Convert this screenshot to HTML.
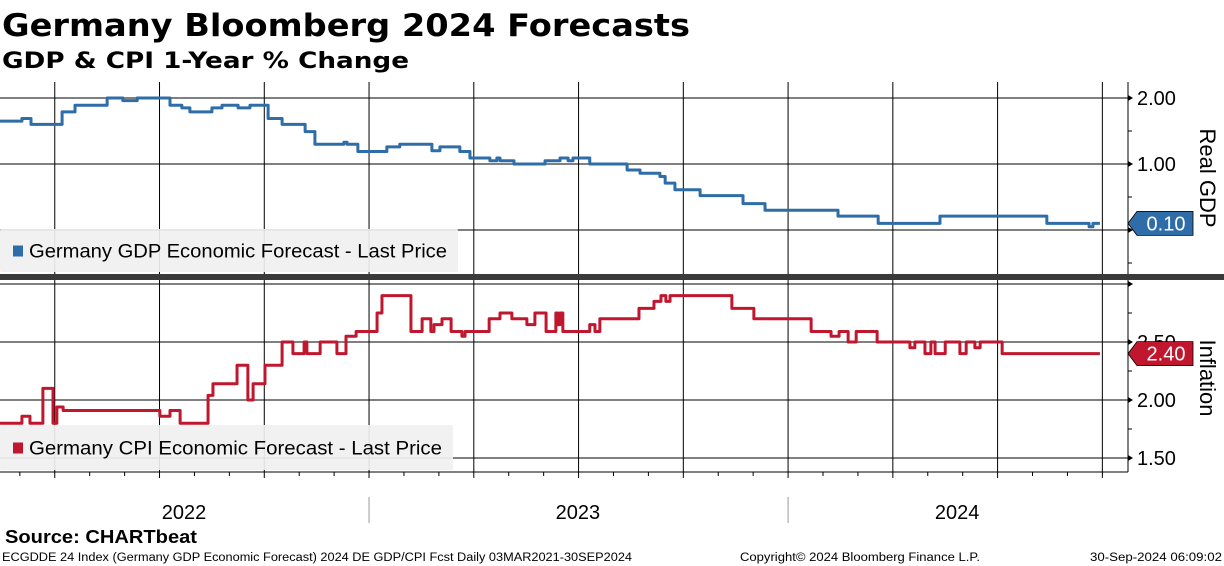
<!DOCTYPE html>
<html><head><meta charset="utf-8"><style>
html,body{margin:0;padding:0;background:#fff;}
svg{display:block;font-family:"Liberation Sans","DejaVu Sans",sans-serif;}
</style></head><body>
<svg id="chart" width="1224" height="566" viewBox="0 0 1224 566" xmlns="http://www.w3.org/2000/svg">
<text x="2" y="36" font-family="DejaVu Sans, sans-serif" font-weight="bold" font-size="31" textLength="688" lengthAdjust="spacingAndGlyphs">Germany Bloomberg 2024 Forecasts</text>
<text x="2" y="68" font-family="DejaVu Sans, sans-serif" font-weight="bold" font-size="22" textLength="407" lengthAdjust="spacingAndGlyphs">GDP &amp; CPI 1-Year % Change</text>
<g id="grid"></g>
<g id="series"></g>
<g id="axes"></g>
<text x="5" y="543" font-weight="bold" font-size="18" textLength="192" lengthAdjust="spacingAndGlyphs">Source: CHARTbeat</text>
<text x="2" y="561" font-size="11.5" textLength="630" lengthAdjust="spacingAndGlyphs">ECGDDE 24 Index (Germany GDP Economic Forecast) 2024 DE GDP/CPI Fcst  Daily 03MAR2021-30SEP2024</text>
<text x="740" y="561" font-size="11.5" textLength="240" lengthAdjust="spacingAndGlyphs">Copyright© 2024 Bloomberg Finance L.P.</text>
<text x="1090" y="561" font-size="11.5" textLength="132" lengthAdjust="spacingAndGlyphs">30-Sep-2024 06:09:02</text>
</svg>
<script>
// months since Jan 2022 where each value starts
const gdpMonths=[1.43,2.06,2.32,3.21,3.58,4.50,4.95,5.36,6.30,6.64,6.87,7.50,7.79,8.25,8.59,9.11,9.51,10.17,10.45,11.28,11.37,11.68,12.51,12.88,13.80,14.03,14.60,14.89,15.46,15.66,15.75,16.15,17.04,17.47,17.70,17.84,18.32,19.39,19.76,20.33,20.48,20.76,21.48,22.71,23.34,25.43,26.58,28.35,31.41,32.62,32.73];
const gdpValues=[1.65,1.69,1.60,1.79,1.89,2.00,1.96,2.00,1.89,1.85,1.79,1.85,1.89,1.85,1.89,1.69,1.60,1.49,1.30,1.33,1.30,1.19,1.26,1.30,1.20,1.26,1.19,1.09,1.05,1.09,1.05,1.00,1.05,1.09,1.05,1.09,1.00,0.91,0.86,0.81,0.71,0.61,0.52,0.40,0.30,0.21,0.10,0.21,0.10,0.05,0.10];
const cpiMonths=[1.43,2.06,2.29,2.66,2.95,3.06,3.24,6.01,6.30,6.59,7.39,7.53,8.22,8.53,8.68,9.02,9.51,9.82,10.14,10.22,10.60,11.08,11.34,11.63,12.23,12.37,13.20,13.52,13.77,13.86,14.09,14.35,14.66,14.75,15.44,15.75,16.09,16.52,16.75,17.07,17.35,17.41,17.47,17.55,18.32,18.47,18.61,19.73,20.16,20.36,20.50,20.62,22.39,23.02,24.66,25.23,25.46,25.72,25.95,26.55,27.49,27.63,27.92,28.09,28.21,28.50,28.92,29.10,29.35,29.50,30.13];
const cpiValues=[1.80,1.86,1.80,2.10,1.80,1.94,1.91,1.86,1.91,1.80,2.04,2.14,2.30,2.00,2.14,2.30,2.50,2.40,2.50,2.40,2.50,2.40,2.55,2.59,2.75,2.90,2.59,2.70,2.59,2.65,2.70,2.59,2.55,2.59,2.70,2.75,2.70,2.65,2.75,2.59,2.75,2.65,2.75,2.59,2.65,2.59,2.70,2.79,2.85,2.90,2.85,2.90,2.79,2.70,2.59,2.55,2.59,2.50,2.59,2.50,2.45,2.50,2.40,2.50,2.40,2.50,2.40,2.50,2.45,2.50,2.40];
const endMonth=32.93;
const gdpTicks=[2.00,1.00,0.00];
const gdpTickLabels=["2.00","1.00",""];
const cpiTicks=[3.00,2.50,2.00,1.50];
const cpiTickLabels=["","2.50","2.00","1.50"];
const yearLabels=["2022","2023","2024"];
const yearMid=[6.7,17.98,28.84];
const yearStarts=[12,24];

const NS="http://www.w3.org/2000/svg";
const xS=m=>-50+m*34.92;
const yG=v=>230-v*66;
const yC=v=>342-(v-2.5)*116;
const AX=1128;
function mk(tag,attrs,parent){const e=document.createElementNS(NS,tag);for(const k in attrs)e.setAttribute(k,attrs[k]);parent.appendChild(e);return e;}
const grid=document.getElementById('grid'),series=document.getElementById('series'),axes=document.getElementById('axes');

for(let q=3;q<=33;q+=3){
  const x=xS(q);
  let l=mk('line',{x1:x,y1:82,x2:x,y2:274,stroke:'#000','stroke-width':1},grid);
  
  
  l=mk('line',{x1:x,y1:280,x2:x,y2:472,stroke:'#000','stroke-width':1},grid);
  
  
}
gdpTicks.forEach((v,i)=>{
  const y=yG(v);
  const l=mk('line',{x1:0,y1:y,x2:AX,y2:y,stroke:'#000','stroke-width':1},grid);
  
  
  const p=mk('path',{d:`M${AX},${y-3}L${AX+5},${y}L${AX},${y+3}Z`,fill:'#000'},axes);
  
  
  if(gdpTickLabels[i]){const t=mk('text',{x:AX+9,y:y+7,'font-size':20},axes);t.textContent=gdpTickLabels[i];
  
  }
});
[1.5,0.5,-0.5].forEach(v=>{const l=mk('line',{x1:AX,y1:yG(v),x2:AX+4,y2:yG(v),stroke:'#000'},axes);
  
  });
cpiTicks.forEach((v,i)=>{
  const y=yC(v);
  const l=mk('line',{x1:0,y1:y,x2:AX,y2:y,stroke:'#000','stroke-width':1},grid);
  
  
  const p=mk('path',{d:`M${AX},${y-3}L${AX+5},${y}L${AX},${y+3}Z`,fill:'#000'},axes);
  
  
  if(cpiTickLabels[i]){const t=mk('text',{x:AX+9,y:y+7,'font-size':20},axes);t.textContent=cpiTickLabels[i];
  
  }
});
[2.75,2.25,1.75].forEach(v=>{const l=mk('line',{x1:AX,y1:yC(v),x2:AX+4,y2:yC(v),stroke:'#000'},axes);
  
  });

let a=mk('line',{x1:AX,y1:82,x2:AX,y2:274,stroke:'#000'},axes);


a=mk('line',{x1:AX,y1:280,x2:AX,y2:472,stroke:'#000'},axes);


a=mk('line',{x1:0,y1:472,x2:AX,y2:472,stroke:'#000'},axes);


for(let m=2;m<=33;m++){const x=xS(m);const l=mk('line',{x1:x,y1:472,x2:x,y2:(m%3==0?478:476),stroke:'#000'},axes);
  
  }
yearStarts.forEach(m=>{const l=mk('line',{x1:xS(m),y1:497,x2:xS(m),y2:523,stroke:'#999'},axes);
  
  });
yearLabels.forEach((s,i)=>{const t=mk('text',{x:xS(yearMid[i]),y:519,'font-size':20,'text-anchor':'middle'},axes);t.textContent=s;
  
  });

let d=mk('rect',{x:0,y:274,width:1224,height:6,fill:'#3a3a3a'},axes);



function stepPath(ms,vs,yf){let p='';for(let i=0;i<ms.length;i++){const x=xS(ms[i]),y=yf(vs[i]);p+=(i?`L${x},${yf(vs[i-1])}L${x},${y}`:`M${x},${y}`);}p+=`L${xS(endMonth)},${yf(vs[vs.length-1])}`;return p;}
let s=mk('path',{d:stepPath(gdpMonths,gdpValues,yG),fill:'none',stroke:'#2e6da8','stroke-width':3,'stroke-linejoin':'round'},series);


s=mk('path',{d:stepPath(cpiMonths,cpiValues,yC),fill:'none',stroke:'#c0172f','stroke-width':3,'stroke-linejoin':'round'},series);



function tag(v,yf,col,name){const y=yf(v);const g=mk('g',{},axes);
  
  
  mk('path',{d:`M${AX},${y}L${AX+9},${y-12}L${AX+65},${y-12}L${AX+65},${y+12}L${AX+9},${y+12}Z`,fill:col,stroke:'#000','stroke-width':0.8},g);
  const t=mk('text',{x:AX+38,y:y+7,'font-size':20,fill:'#fff','text-anchor':'middle'},g);t.textContent=v.toFixed(2);}
tag(gdpValues[gdpValues.length-1],yG,'#2e6da8','gdp-last-value-tag');
tag(cpiValues[cpiValues.length-1],yC,'#c0172f','cpi-last-value-tag');

let t=mk('text',{x:0,y:0,'font-size':22,'text-anchor':'middle',transform:'translate(1200,178) rotate(90)'},axes);t.textContent='Real GDP';


t=mk('text',{x:0,y:0,'font-size':22,'text-anchor':'middle',transform:'translate(1200,378) rotate(90)'},axes);t.textContent='Inflation';



function legend(x,y,w,h,col,label,name){const g=mk('g',{},axes);
  
  
  mk('rect',{x:x,y:y,width:w,height:h,fill:'#f0f0f0','fill-opacity':0.92,rx:2},g);
  mk('rect',{x:13,y:y+h/2-5,width:10,height:11,fill:col},g);
  const tx=mk('text',{x:29,y:y+h/2+7,'font-size':19,textLength:w-40,lengthAdjust:'spacingAndGlyphs'},g);tx.textContent=label;}
legend(0,229,458,43,'#2e6da8','Germany GDP Economic Forecast - Last Price','gdp-legend');
legend(0,425,453,45,'#c0172f','Germany CPI Economic Forecast - Last Price','cpi-legend');
</script>
</body></html>
